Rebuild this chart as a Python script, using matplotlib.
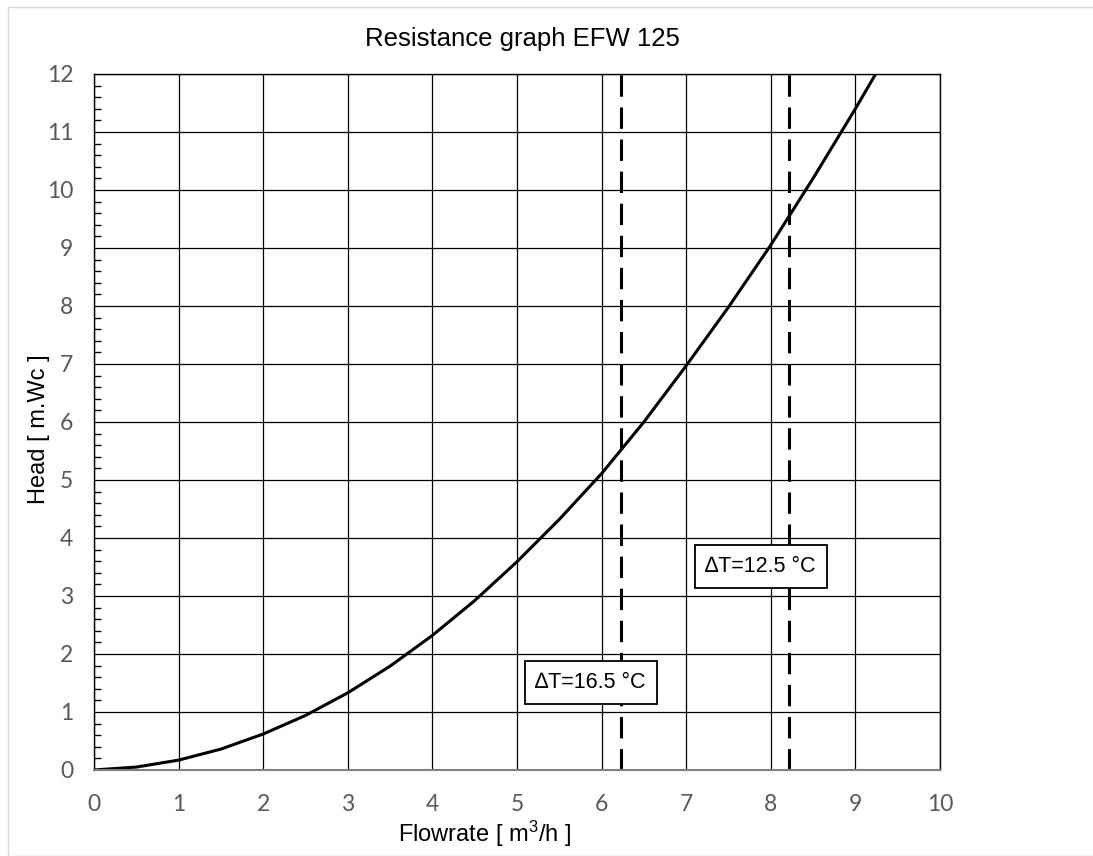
import numpy as np
import matplotlib
matplotlib.use("Agg")
import matplotlib.pyplot as plt
from matplotlib.ticker import MultipleLocator
from matplotlib.patches import Rectangle

# flowrate [m3/h] and head [m.Wc]
flow = [0, 0.5, 1, 1.5, 2, 2.5, 3, 3.5, 4, 4.5, 5, 5.5, 6, 6.5, 7, 7.5, 8, 8.5, 9, 9.24]
head = [0, 0.05, 0.17, 0.36, 0.62, 0.94, 1.33, 1.79, 2.32, 2.92, 3.59, 4.32,
        5.11, 6.0, 6.97, 7.98, 9.05, 10.2, 11.4, 12.0]

# delta T markers
dt_flow = [6.23, 8.22]
dt_labels = ["\u2206T=16.5 \u00b0C", "\u2206T=12.5 \u00b0C"]
dt_label_pos = [(5.87, 1.51), (7.88, 3.51)]

x_ticks = list(range(0, 11))
y_ticks = list(range(0, 13))

plt.rcParams['mathtext.fontset'] = 'custom'
plt.rcParams['mathtext.rm'] = 'Liberation Sans'
plt.rcParams['mathtext.it'] = 'Liberation Sans'

fig = plt.figure(figsize=(10.93, 8.56), dpi=100)
ax = fig.add_axes([0.0860, 0.1005, 0.7740, 0.8131])

# light border around the chart area
fig.patches.append(Rectangle((8 / 1093, 0), 1.2, 1 - 7 / 856, transform=fig.transFigure,
                             fill=False, edgecolor="#d9d9d9", linewidth=1))

ax.set_xlim(0, 10)
ax.set_ylim(0, 12)
ax.set_xticks(x_ticks)
ax.set_yticks(y_ticks)
ax.yaxis.set_minor_locator(MultipleLocator(0.2))
ax.grid(True, which="major", color="black", linewidth=0.9)
ax.set_axisbelow(True)

ax.plot(flow, head, color="black", linewidth=2.2, solid_capstyle="butt", solid_joinstyle="round")

for xv in dt_flow:
    ax.axvline(xv, color="black", linewidth=2.2, dashes=(7, 3.5))

for (px, py), txt in zip(dt_label_pos, dt_labels):
    ax.text(px, py, txt, ha="center", va="center", fontsize=15.5, family="Liberation Sans",
            bbox=dict(boxstyle="square,pad=0.5", facecolor="white", edgecolor="black", linewidth=1.3))

for s in ["left", "right", "top"]:
    ax.spines[s].set_color("black")
    ax.spines[s].set_linewidth(1.0)
ax.spines["bottom"].set_color("#808080")
ax.spines["bottom"].set_linewidth(1.5)

ax.tick_params(axis="x", which="major", length=0, pad=17, labelsize=16.5, labelcolor="#595959")
ax.tick_params(axis="y", which="major", length=0, pad=15, labelsize=16.5, labelcolor="#595959")
ax.tick_params(axis="y", which="minor", direction="in", length=5, width=1, color="black")
for lab in ax.get_xticklabels() + ax.get_yticklabels():
    lab.set_family("Lato")

ax.set_title("Resistance graph EFW 125", fontsize=18.5, family="Liberation Sans", pad=20)
ax.title.set_x(0.506)
ax.set_xlabel("Flowrate [ m$^3$/h ]", fontsize=17, family="Liberation Sans", labelpad=3)
ax.xaxis.label.set_x(0.462)
ax.set_ylabel("Head [ m.Wc ]", fontsize=17, family="Liberation Sans", labelpad=-2.5)
ax.yaxis.label.set_y(0.49)

fig.savefig("out.png", dpi=100)
